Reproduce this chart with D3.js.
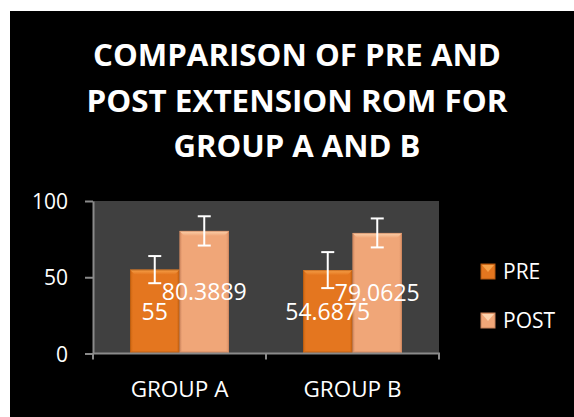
<!DOCTYPE html>
<html>
<head>
<meta charset="utf-8">
<script src="https://cdn.jsdelivr.net/npm/d3@7"></script>
<style>
  html, body { margin: 0; padding: 0; background: #ffffff; }
  svg { display: block; }
  text { font-family: "Open Sans", "DejaVu Sans", sans-serif; }
</style>
</head>
<body>
<svg id="chart" width="574" height="417"></svg>
<script>
// Chart data
const categories = ["GROUP A", "GROUP B"];
const seriesNames = ["PRE", "POST"];
const preValues = [55, 54.6875];
const postValues = [80.3889, 79.0625];
const preErrors = [8.9, 11.8];
const postErrors = [9.6, 9.5];
const yTicks = [0, 50, 100];
const titleLines = ["COMPARISON OF PRE AND", "POST EXTENSION ROM FOR", "GROUP A AND B"];

const seriesValues = [preValues, postValues];
const seriesErrors = [preErrors, postErrors];
const palette = {
  PRE:  { base: "#E4761F", light: "#F7A24A", dark: "#B45910", side: "#C9650F" },
  POST: { base: "#F0A678", light: "#FCD3AE", dark: "#C9825A", side: "#D98F66" }
};

const svg = d3.select("#chart");
const defs = svg.append("defs");

// Background frame
svg.append("rect").attr("x", 10).attr("y", 11).attr("width", 564).attr("height", 406).attr("fill", "#000");

// Title
const title = svg.append("g");
const titleWidths = [408, 421, 247];
const titleBaselines = [66, 112, 157];
titleLines.forEach((t, i) => {
  title.append("text")
    .attr("x", 297).attr("y", titleBaselines[i])
    .attr("text-anchor", "middle")
    .attr("font-size", 30).attr("font-weight", 700)
    .attr("fill", "#fff")
    .attr("textLength", titleWidths[i])
    .attr("lengthAdjust", "spacingAndGlyphs")
    .text(t);
});

// Plot area
const plot = { left: 93, right: 439, top: 201, bottom: 353.5 };
const x0 = d3.scaleBand().domain(categories).range([plot.left, plot.right]).paddingInner(0).paddingOuter(0);
const groupInner = 99 / 173;
const x1 = d3.scaleBand().domain(seriesNames).range([0, x0.bandwidth() * groupInner]);
const y = d3.scaleLinear().domain([0, 100]).range([plot.bottom, plot.top]);

svg.append("rect")
  .attr("x", plot.left).attr("y", plot.top)
  .attr("width", plot.right - plot.left).attr("height", plot.bottom - plot.top)
  .attr("fill", "#404040");

// Gradients for the bevelled bar faces
seriesNames.forEach(s => {
  const c = palette[s];
  const g = defs.append("linearGradient").attr("id", "face-" + s)
    .attr("x1", 0).attr("x2", 1).attr("y1", 0).attr("y2", 0);
  g.append("stop").attr("offset", "0%").attr("stop-color", c.side);
  g.append("stop").attr("offset", "6%").attr("stop-color", c.base);
  g.append("stop").attr("offset", "94%").attr("stop-color", c.base);
  g.append("stop").attr("offset", "100%").attr("stop-color", c.side);
  const t = defs.append("linearGradient").attr("id", "top-" + s)
    .attr("x1", 0).attr("x2", 0).attr("y1", 0).attr("y2", 1);
  t.append("stop").attr("offset", "0%").attr("stop-color", c.light);
  t.append("stop").attr("offset", "100%").attr("stop-color", c.base);
});

// Bars
const bevel = 5;
const bars = svg.append("g");
categories.forEach((cat, ci) => {
  const gx = x0(cat) + (x0.bandwidth() - x0.bandwidth() * groupInner) / 2;
  seriesNames.forEach((s, si) => {
    const v = seriesValues[si][ci];
    const bx = gx + x1(s), bw = x1.bandwidth();
    const by = y(v), bh = y(0) - y(v);
    const c = palette[s];
    bars.append("rect").attr("x", bx).attr("y", by).attr("width", bw).attr("height", bh)
      .attr("fill", `url(#face-${s})`);
    // top bevel
    bars.append("path")
      .attr("d", `M${bx},${by} L${bx + bw},${by} L${bx + bw - bevel},${by + bevel} L${bx + bevel},${by + bevel} Z`)
      .attr("fill", `url(#top-${s})`);
    // bottom bevel
    bars.append("path")
      .attr("d", `M${bx},${by + bh} L${bx + bw},${by + bh} L${bx + bw - 2},${by + bh - 2} L${bx + 2},${by + bh - 2} Z`)
      .attr("fill", c.dark).attr("opacity", 0.7);
    bars.append("rect").attr("x", bx + 0.5).attr("y", by + 0.5).attr("width", bw - 1).attr("height", bh - 1)
      .attr("fill", "none").attr("stroke", c.dark).attr("stroke-width", 1).attr("opacity", 0.6);
  });
});

// Axes
const axisColor = "#8a8a8a";
const yAxis = svg.append("g").attr("transform", `translate(${plot.left},0)`)
  .call(d3.axisLeft(y).tickValues(yTicks).tickSize(8).tickSizeOuter(0).tickPadding(17));
yAxis.select(".domain").attr("stroke", axisColor).attr("stroke-width", 2);
yAxis.selectAll(".tick line").attr("stroke", axisColor).attr("stroke-width", 2);
yAxis.selectAll(".tick text").attr("fill", "#fff").attr("font-size", 21)
  .attr("font-family", "\"Open Sans\", sans-serif").attr("dy", "0.36em");

const xAxis = svg.append("g").attr("transform", `translate(0,${plot.bottom})`)
  .call(d3.axisBottom(x0).tickSize(0).tickPadding(28));
xAxis.select(".domain").remove();
xAxis.selectAll(".tick text").attr("fill", "#fff").attr("font-size", 22.5)
  .attr("font-family", "\"Open Sans\", sans-serif");
svg.append("line").attr("x1", plot.left).attr("x2", plot.right + 1)
  .attr("y1", plot.bottom).attr("y2", plot.bottom)
  .attr("stroke", axisColor).attr("stroke-width", 2);
// category separators below the axis
const boundaries = categories.map(c => x0(c)).concat([x0(categories[categories.length - 1]) + x0.bandwidth()]);
svg.append("g").selectAll("line").data(boundaries).join("line")
  .attr("x1", d => d).attr("x2", d => d)
  .attr("y1", plot.bottom).attr("y2", plot.bottom + 6)
  .attr("stroke", axisColor).attr("stroke-width", 2);

// Error bars
const errs = svg.append("g").attr("stroke", "#fff").attr("stroke-width", 2);
categories.forEach((cat, ci) => {
  const gx = x0(cat) + (x0.bandwidth() - x0.bandwidth() * groupInner) / 2;
  seriesNames.forEach((s, si) => {
    const v = seriesValues[si][ci], e = seriesErrors[si][ci];
    const cx = gx + x1(s) + x1.bandwidth() / 2;
    errs.append("line").attr("x1", cx).attr("x2", cx).attr("y1", y(v + e)).attr("y2", y(v - e));
    errs.append("line").attr("x1", cx - 6.5).attr("x2", cx + 6.5).attr("y1", y(v + e)).attr("y2", y(v + e));
    errs.append("line").attr("x1", cx - 6.5).attr("x2", cx + 6.5).attr("y1", y(v - e)).attr("y2", y(v - e));
  });
});

// Value labels at bar centres
const labels = svg.append("g");
categories.forEach((cat, ci) => {
  const gx = x0(cat) + (x0.bandwidth() - x0.bandwidth() * groupInner) / 2;
  seriesNames.forEach((s, si) => {
    const v = seriesValues[si][ci];
    labels.append("text")
      .attr("x", gx + x1(s) + x1.bandwidth() / 2)
      .attr("y", y(v / 2))
      .attr("dy", "0.36em")
      .attr("text-anchor", "middle")
      .attr("font-size", 23).attr("fill", "#fff")
      .text(String(v));
  });
});

// Legend
const legend = svg.append("g").attr("transform", "translate(481,264)");
seriesNames.forEach((s, i) => {
  const c = palette[s];
  const g = legend.append("g").attr("transform", `translate(0,${i * 49})`);
  g.append("rect").attr("width", 14).attr("height", 15).attr("fill", c.base)
    .attr("stroke", c.dark).attr("stroke-width", 1);
  g.append("path").attr("d", "M1,1 L13,1 L7,8 Z").attr("fill", c.light);
  g.append("text").attr("x", 22).attr("y", 15).attr("font-size", 21).attr("fill", "#fff").text(s);
});
</script>
</body>
</html>
